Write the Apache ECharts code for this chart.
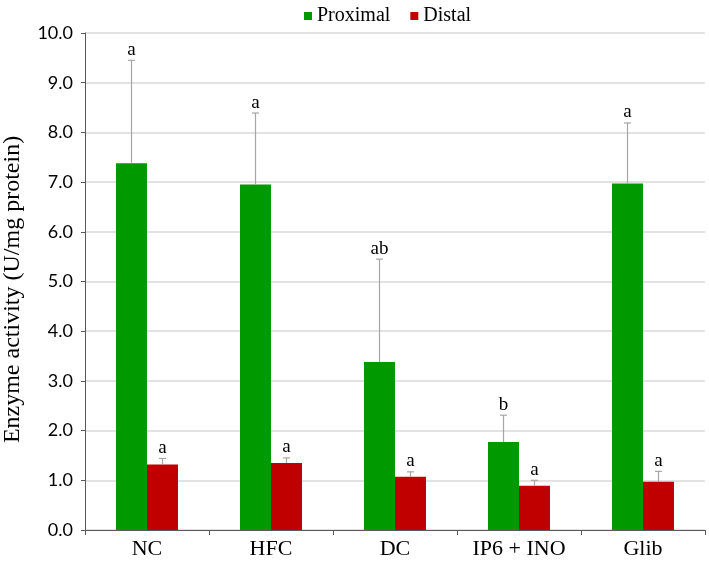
<!DOCTYPE html>
<html><head><meta charset="utf-8">
<script src="https://cdn.jsdelivr.net/npm/echarts@6/dist/echarts.min.js"></script>
<style>html,body{margin:0;padding:0;background:#fff}#c{width:709px;height:562px}</style>
</head><body><div id="c"></div>
<script>
const categories = ['NC', 'HFC', 'DC', 'IP6 + INO', 'Glib'];
const proximal = [7.38, 6.95, 3.38, 1.77, 6.97];
const proximalErr = [2.07, 1.44, 2.07, 0.54, 1.22];
const distal = [1.32, 1.35, 1.07, 0.89, 0.97];
const distalErr = [0.12, 0.10, 0.10, 0.11, 0.21];
const proximalSig = ['a', 'a', 'ab', 'b', 'a'];
const distalSig = ['a', 'a', 'a', 'a', 'a'];
const yTicks = [0, 1, 2, 3, 4, 5, 6, 7, 8, 9, 10];

const serif = '"Liberation Serif", "Times New Roman", serif';
const chart = echarts.init(document.getElementById('c'));

function errSeries(name, vals, errs, sigs, dir) {
  return {
    type: 'custom',
    name: name + ' err',
    silent: true,
    z: 10,
    data: categories.map((c, i) => [i, vals[i] + errs[i]]),
    renderItem(params, api) {
      const i = params.dataIndex;
      const base = api.coord([i, vals[i]]);
      const top = api.coord([i, vals[i] + errs[i]]);
      const bw = api.size([1, 0])[0];
      const x = base[0] + dir * bw * 0.125;
      const lineStyle = { stroke: '#a6a6a6', lineWidth: 1.2 };
      return {
        type: 'group',
        children: [
          { type: 'line', shape: { x1: x, y1: base[1], x2: x, y2: top[1] }, style: lineStyle },
          { type: 'line', shape: { x1: x - 3.5, y1: top[1], x2: x + 3.5, y2: top[1] }, style: lineStyle },
          { type: 'text', style: { text: sigs[i], x: x, y: top[1] - 1, align: 'center', verticalAlign: 'bottom', textAlign: 'center', textVerticalAlign: 'bottom', fontFamily: serif, fontSize: 19, fill: '#000' } }
        ]
      };
    }
  };
}

chart.setOption({
  animation: false,
  backgroundColor: '#fff',
  legend: {
    data: ['Proximal', 'Distal'],
    left: 299, top: 1,
    itemWidth: 8, itemHeight: 8, itemGap: 20,
    icon: 'rect',
    textStyle: { fontFamily: serif, fontSize: 20, color: '#000' }
  },
  grid: { left: 85, right: 4, top: 33, bottom: 32, containLabel: false, outerBoundsMode: 'none' },
  xAxis: {
    type: 'category',
    data: categories,
    boundaryGap: true,
    axisLine: { lineStyle: { color: '#595959', width: 1 } },
    axisTick: { show: true, length: 5, alignWithLabel: false, lineStyle: { color: '#595959' } },
    axisLabel: { fontFamily: serif, fontSize: 22, color: '#000', margin: 8 }
  },
  yAxis: {
    type: 'value',
    min: yTicks[0], max: yTicks[yTicks.length - 1], interval: 1,
    name: 'Enzyme activity (U/mg protein)',
    nameLocation: 'middle',
    nameGap: 60,
    nameTextStyle: { fontFamily: serif, fontSize: 24, color: '#000', padding: [0, 16, 0, 0] },
    axisLine: { show: true, lineStyle: { color: '#595959', width: 1 } },
    axisTick: { show: true, length: 4, lineStyle: { color: '#595959' } },
    axisLabel: { fontFamily: 'Lato', fontSize: 18, color: '#000', margin: 12, formatter: v => v.toFixed(1) },
    splitLine: { lineStyle: { color: '#d9d9d9', width: 1.5 } }
  },
  series: [
    { type: 'bar', name: 'Proximal', data: proximal, barWidth: '25%', barGap: '0%', itemStyle: { color: '#009900' } },
    { type: 'bar', name: 'Distal', data: distal, barWidth: '25%', barGap: '0%', itemStyle: { color: '#c00000' } },
    errSeries('Proximal', proximal, proximalErr, proximalSig, -1),
    errSeries('Distal', distal, distalErr, distalSig, 1)
  ]
});
</script></body></html>
